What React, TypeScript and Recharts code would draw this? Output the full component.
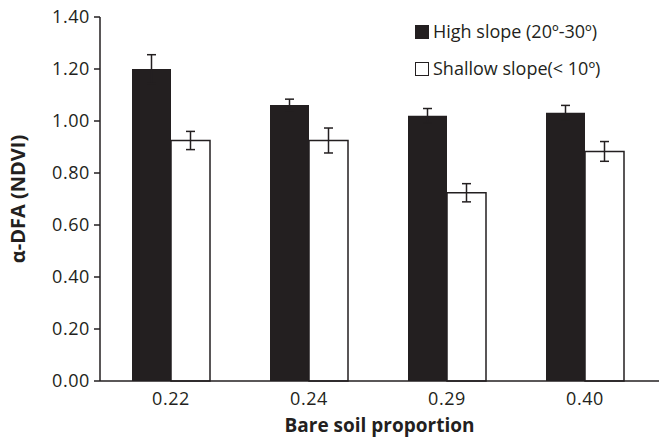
import React from 'react';
import { BarChart, Bar, XAxis, YAxis, ErrorBar, Label } from 'recharts';

const categories = ['0.22', '0.24', '0.29', '0.40'];
const highSlope = [1.2, 1.062, 1.02, 1.032];
const highSlopeErr = [0.055, 0.022, 0.028, 0.028];
const shallowSlope = [0.925, 0.925, 0.724, 0.883];
const shallowSlopeErr = [0.035, 0.048, 0.035, 0.038];
const yTicks = [0, 0.2, 0.4, 0.6, 0.8, 1.0, 1.2, 1.4];

const seriesNames = ['High slope (20º-30º)', 'Shallow slope(< 10º)'];

const data = categories.map((name, i) => ({
  name,
  high: highSlope[i],
  highErr: highSlopeErr[i],
  shallow: shallowSlope[i],
  shallowErr: shallowSlopeErr[i],
}));

const INK = '#231f20';
const FONT = '"Open Sans", sans-serif';
const tickStyle = { fill: INK, fontSize: 18, fontFamily: FONT, letterSpacing: 0.6 };

// legend drawn as an overlay so it doesn't eat into the plot area
const LegendBox = () => (
  <div
    style={{
      position: 'absolute',
      left: 415,
      top: 13,
      fontFamily: FONT,
      fontSize: 18,
      color: INK,
      lineHeight: '37px',
    }}
  >
    {seriesNames.map((n, i) => (
      <div key={n} style={{ display: 'flex', alignItems: 'center' }}>
        <span
          style={{
            display: 'inline-block',
            width: 14,
            height: 14,
            marginRight: 4,
            background: i === 0 ? INK : '#fff',
            border: `1.5px solid ${INK}`,
            boxSizing: 'border-box',
          }}
        />
        {n}
      </div>
    ))}
  </div>
);

export default function App() {
  return (
    <div style={{ position: 'absolute', left: 0, top: 0, width: 659, height: 438, background: '#fff' }}>
      <BarChart
        width={659}
        height={438}
        data={data}
        margin={{ top: 17, right: 0, left: 0, bottom: 0 }}
        barGap={0}
        barSize={39}
      >
        <XAxis
          dataKey="name"
          height={57}
          padding={{ left: 2, right: 5 }}
          tickLine={false}
          axisLine={{ stroke: INK, strokeWidth: 1.5 }}
          tick={tickStyle}
          tickMargin={5}
        >
          <Label
            value="Bare soil proportion"
            position="insideBottom"
            offset={6}
            style={{ fill: INK, fontSize: 19, fontWeight: 700, fontFamily: FONT }}
          />
        </XAxis>
        <YAxis
          width={100}
          domain={[0, 1.4]}
          ticks={yTicks}
          interval={0}
          tickFormatter={(v: number) => v.toFixed(2)}
          tickSize={6}
          tickMargin={4}
          tickLine={{ stroke: INK, strokeWidth: 1.5 }}
          axisLine={{ stroke: INK, strokeWidth: 1.5 }}
          tick={tickStyle}
        >
          <Label
            value="α-DFA (NDVI)"
            angle={-90}
            position="insideLeft"
            offset={18}
            style={{ fill: INK, fontSize: 20, fontWeight: 700, fontFamily: FONT, textAnchor: 'middle' }}
          />
        </YAxis>
        <Bar dataKey="high" name={seriesNames[0]} fill={INK} isAnimationActive={false}>
          <ErrorBar dataKey="highErr" width={4.5} stroke={INK} strokeWidth={1.5} />
        </Bar>
        <Bar
          dataKey="shallow"
          name={seriesNames[1]}
          fill="#fff"
          stroke={INK}
          strokeWidth={1.5}
          isAnimationActive={false}
        >
          <ErrorBar dataKey="shallowErr" width={4.5} stroke={INK} strokeWidth={1.5} />
        </Bar>
      </BarChart>
      <LegendBox />
    </div>
  );
}
